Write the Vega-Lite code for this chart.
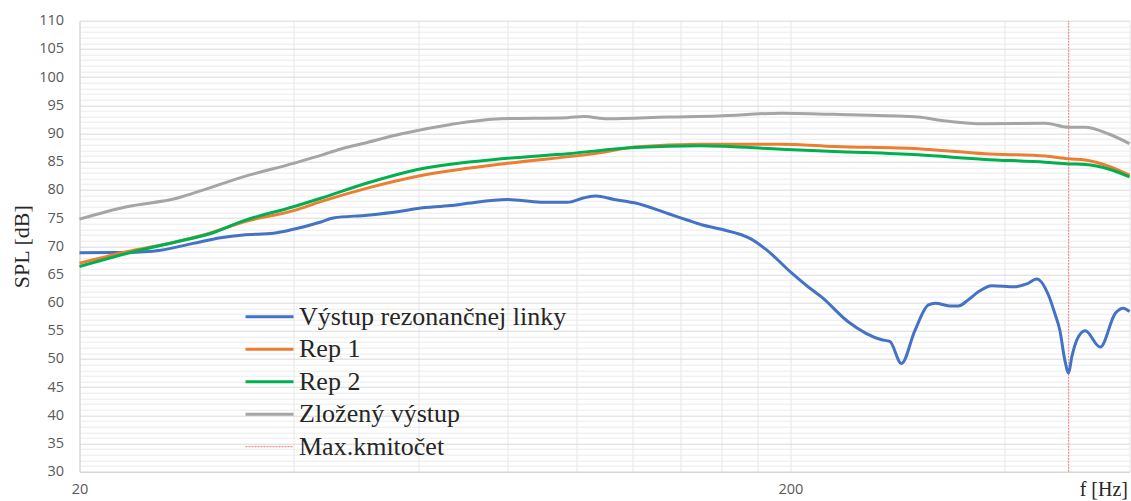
{
  "$schema": "https://vega.github.io/schema/vega-lite/v6.json",
  "width": 1050,
  "height": 451,
  "autosize": "none",
  "padding": {"left": 79.5, "top": 20.7, "right": 1.5, "bottom": 29.3},
  "background": "white",
  "config": {"view": {"stroke": null}},
  "datasets": {
    "curves": [
      {"series": "Výstup rezonančnej linky", "f": 20, "spl": 68.85},
      {"series": "Výstup rezonančnej linky", "f": 23.3, "spl": 68.9},
      {"series": "Výstup rezonančnej linky", "f": 26.0, "spl": 69.3},
      {"series": "Výstup rezonančnej linky", "f": 28.9, "spl": 70.5},
      {"series": "Výstup rezonančnej linky", "f": 31.6, "spl": 71.5},
      {"series": "Výstup rezonančnej linky", "f": 34.0, "spl": 72.0},
      {"series": "Výstup rezonančnej linky", "f": 37.5, "spl": 72.3},
      {"series": "Výstup rezonančnej linky", "f": 40.0, "spl": 73.0},
      {"series": "Výstup rezonančnej linky", "f": 43.7, "spl": 74.3},
      {"series": "Výstup rezonančnej linky", "f": 45.5, "spl": 75.0},
      {"series": "Výstup rezonančnej linky", "f": 50.8, "spl": 75.5},
      {"series": "Výstup rezonančnej linky", "f": 56.6, "spl": 76.2},
      {"series": "Výstup rezonančnej linky", "f": 59.8, "spl": 76.7},
      {"series": "Výstup rezonančnej linky", "f": 66.6, "spl": 77.2},
      {"series": "Výstup rezonančnej linky", "f": 70.3, "spl": 77.6},
      {"series": "Výstup rezonančnej linky", "f": 80.0, "spl": 78.3},
      {"series": "Výstup rezonančnej linky", "f": 89.1, "spl": 77.8},
      {"series": "Výstup rezonančnej linky", "f": 97.2, "spl": 77.8},
      {"series": "Výstup rezonančnej linky", "f": 102.6, "spl": 78.6},
      {"series": "Výstup rezonančnej linky", "f": 106.6, "spl": 78.9},
      {"series": "Výstup rezonančnej linky", "f": 113, "spl": 78.3},
      {"series": "Výstup rezonančnej linky", "f": 120.7, "spl": 77.7},
      {"series": "Výstup rezonančnej linky", "f": 134.5, "spl": 75.8},
      {"series": "Výstup rezonančnej linky", "f": 143.5, "spl": 74.6},
      {"series": "Výstup rezonančnej linky", "f": 150, "spl": 73.8},
      {"series": "Výstup rezonančnej linky", "f": 160, "spl": 73.0},
      {"series": "Výstup rezonančnej linky", "f": 176, "spl": 71.3},
      {"series": "Výstup rezonančnej linky", "f": 185, "spl": 69.4},
      {"series": "Výstup rezonančnej linky", "f": 200.6, "spl": 65.3},
      {"series": "Výstup rezonančnej linky", "f": 211.8, "spl": 62.8},
      {"series": "Výstup rezonančnej linky", "f": 221.2, "spl": 61.0},
      {"series": "Výstup rezonančnej linky", "f": 241.2, "spl": 56.6},
      {"series": "Výstup rezonančnej linky", "f": 268.8, "spl": 53.4},
      {"series": "Výstup rezonančnej linky", "f": 276.0, "spl": 53.1},
      {"series": "Výstup rezonančnej linky", "f": 286.7, "spl": 49.2},
      {"series": "Výstup rezonančnej linky", "f": 299.3, "spl": 55.0},
      {"series": "Výstup rezonančnej linky", "f": 312.8, "spl": 59.6},
      {"series": "Výstup rezonančnej linky", "f": 320, "spl": 59.9},
      {"series": "Výstup rezonančnej linky", "f": 335, "spl": 59.4},
      {"series": "Výstup rezonančnej linky", "f": 344.8, "spl": 59.4},
      {"series": "Výstup rezonančnej linky", "f": 356, "spl": 60.5},
      {"series": "Výstup rezonančnej linky", "f": 367.8, "spl": 61.9},
      {"series": "Výstup rezonančnej linky", "f": 384, "spl": 63.0},
      {"series": "Výstup rezonančnej linky", "f": 413.8, "spl": 62.8},
      {"series": "Výstup rezonančnej linky", "f": 430, "spl": 63.3},
      {"series": "Výstup rezonančnej linky", "f": 444.4, "spl": 64.2},
      {"series": "Výstup rezonančnej linky", "f": 461.6, "spl": 61.3},
      {"series": "Výstup rezonančnej linky", "f": 471, "spl": 58.1},
      {"series": "Výstup rezonančnej linky", "f": 478.8, "spl": 55.1},
      {"series": "Výstup rezonančnej linky", "f": 486.6, "spl": 49.8},
      {"series": "Výstup rezonančnej linky", "f": 492.6, "spl": 47.5},
      {"series": "Výstup rezonančnej linky", "f": 497.8, "spl": 50.4},
      {"series": "Výstup rezonančnej linky", "f": 506, "spl": 53.4},
      {"series": "Výstup rezonančnej linky", "f": 519.8, "spl": 55.0},
      {"series": "Výstup rezonančnej linky", "f": 545.8, "spl": 52.1},
      {"series": "Výstup rezonančnej linky", "f": 573, "spl": 58.1},
      {"series": "Výstup rezonančnej linky", "f": 588, "spl": 59.0},
      {"series": "Výstup rezonančnej linky", "f": 600, "spl": 58.4},

      {"series": "Rep 1", "f": 20, "spl": 67.0},
      {"series": "Rep 1", "f": 23.3, "spl": 69.0},
      {"series": "Rep 1", "f": 27.4, "spl": 70.8},
      {"series": "Rep 1", "f": 30.5, "spl": 72.3},
      {"series": "Rep 1", "f": 34.0, "spl": 74.3},
      {"series": "Rep 1", "f": 40.0, "spl": 76.3},
      {"series": "Rep 1", "f": 43.7, "spl": 77.9},
      {"series": "Rep 1", "f": 50.8, "spl": 80.3},
      {"series": "Rep 1", "f": 59.8, "spl": 82.4},
      {"series": "Rep 1", "f": 80.0, "spl": 84.7},
      {"series": "Rep 1", "f": 108.3, "spl": 86.6},
      {"series": "Rep 1", "f": 120.7, "spl": 87.6},
      {"series": "Rep 1", "f": 149.8, "spl": 88.1},
      {"series": "Rep 1", "f": 194.2, "spl": 88.1},
      {"series": "Rep 1", "f": 230.8, "spl": 87.7},
      {"series": "Rep 1", "f": 302.7, "spl": 87.3},
      {"series": "Rep 1", "f": 375.8, "spl": 86.4},
      {"series": "Rep 1", "f": 456.6, "spl": 86.0},
      {"series": "Rep 1", "f": 492.6, "spl": 85.5},
      {"series": "Rep 1", "f": 519.8, "spl": 85.3},
      {"series": "Rep 1", "f": 560.9, "spl": 84.2},
      {"series": "Rep 1", "f": 600, "spl": 82.6},

      {"series": "Rep 2", "f": 20, "spl": 66.4},
      {"series": "Rep 2", "f": 23.3, "spl": 68.7},
      {"series": "Rep 2", "f": 27.4, "spl": 70.8},
      {"series": "Rep 2", "f": 30.5, "spl": 72.2},
      {"series": "Rep 2", "f": 34.0, "spl": 74.5},
      {"series": "Rep 2", "f": 40.0, "spl": 77.0},
      {"series": "Rep 2", "f": 43.7, "spl": 78.5},
      {"series": "Rep 2", "f": 50.8, "spl": 81.2},
      {"series": "Rep 2", "f": 59.8, "spl": 83.6},
      {"series": "Rep 2", "f": 80.0, "spl": 85.6},
      {"series": "Rep 2", "f": 97.2, "spl": 86.4},
      {"series": "Rep 2", "f": 120.7, "spl": 87.5},
      {"series": "Rep 2", "f": 149.8, "spl": 87.8},
      {"series": "Rep 2", "f": 194.2, "spl": 87.2},
      {"series": "Rep 2", "f": 230.8, "spl": 86.8},
      {"series": "Rep 2", "f": 302.7, "spl": 86.2},
      {"series": "Rep 2", "f": 375.8, "spl": 85.4},
      {"series": "Rep 2", "f": 456.6, "spl": 84.9},
      {"series": "Rep 2", "f": 492.6, "spl": 84.6},
      {"series": "Rep 2", "f": 519.8, "spl": 84.5},
      {"series": "Rep 2", "f": 560.9, "spl": 83.7},
      {"series": "Rep 2", "f": 600, "spl": 82.3},

      {"series": "Zložený výstup", "f": 20, "spl": 74.8},
      {"series": "Zložený výstup", "f": 23.3, "spl": 77.0},
      {"series": "Zložený výstup", "f": 27.4, "spl": 78.5},
      {"series": "Zložený výstup", "f": 29.9, "spl": 80.0},
      {"series": "Zložený výstup", "f": 34.0, "spl": 82.3},
      {"series": "Zložený výstup", "f": 40.0, "spl": 84.7},
      {"series": "Zložený výstup", "f": 43.7, "spl": 86.1},
      {"series": "Zložený výstup", "f": 46.5, "spl": 87.2},
      {"series": "Zložený výstup", "f": 50.8, "spl": 88.4},
      {"series": "Zložený výstup", "f": 56.6, "spl": 89.9},
      {"series": "Zložený výstup", "f": 66.6, "spl": 91.6},
      {"series": "Zložený výstup", "f": 78.3, "spl": 92.6},
      {"series": "Zložený výstup", "f": 97.2, "spl": 92.8},
      {"series": "Zložený výstup", "f": 102.6, "spl": 93.0},
      {"series": "Zložený výstup", "f": 110.7, "spl": 92.6},
      {"series": "Zložený výstup", "f": 134.5, "spl": 92.9},
      {"series": "Zložený výstup", "f": 158.2, "spl": 93.1},
      {"series": "Zložený výstup", "f": 194.2, "spl": 93.6},
      {"series": "Zložený výstup", "f": 243.8, "spl": 93.3},
      {"series": "Zložený výstup", "f": 302.7, "spl": 92.9},
      {"series": "Zložený výstup", "f": 326.5, "spl": 92.3},
      {"series": "Zložený výstup", "f": 375.8, "spl": 91.7},
      {"series": "Zložený výstup", "f": 456.6, "spl": 91.8},
      {"series": "Zložený výstup", "f": 492.6, "spl": 91.1},
      {"series": "Zložený výstup", "f": 519.8, "spl": 91.1},
      {"series": "Zložený výstup", "f": 560.9, "spl": 89.9},
      {"series": "Zložený výstup", "f": 600, "spl": 88.2}
    ],
    "marker": [
      {"series": "Max.kmitočet", "f": 492.6}
    ]
  },
  "layer": [
    {
      "data": {"name": "marker"},
      "mark": {"type": "rule", "strokeWidth": 1.2, "strokeDash": [2, 1]},
      "encoding": {
        "x": {
          "field": "f", "type": "quantitative",
          "scale": {"type": "log", "domain": [20, 600], "nice": false},
          "axis": {
            "values": [20, 40, 60, 80, 100, 120, 140, 160, 180, 200, 400, 600],
            "labelExpr": "datum.value == 20 || datum.value == 200 ? format(datum.value, 'd') : ''",
            "labelFlush": false, "labelOverlap": false,
            "grid": true, "gridColor": "#e6e6e6", "gridWidth": 1,
            "ticks": false, "tickSize": 0,
            "domainColor": "#d0d0d0", "domainWidth": 1,
            "labelFont": "Open Sans", "labelFontSize": 14.5, "labelColor": "#595959", "labelPadding": 11,
            "title": "f [Hz]", "titleFont": "Liberation Serif", "titleFontSize": 20, "titleFontWeight": "normal",
            "titleColor": "#262626", "titleX": 1048, "titleY": 24, "titleAlign": "right", "titleBaseline": "alphabetic"
          }
        },
        "y": {
          "datum": 30, "type": "quantitative",
          "scale": {"domain": [30, 110], "nice": false},
          "axis": {
            "orient": "left",
            "values": [31,32,33,34,36,37,38,39,41,42,43,44,46,47,48,49,51,52,53,54,56,57,58,59,61,62,63,64,66,67,68,69,71,72,73,74,76,77,78,79,81,82,83,84,86,87,88,89,91,92,93,94,96,97,98,99,101,102,103,104,106,107,108,109],
            "labels": false, "ticks": false, "domain": false,
            "grid": true, "gridColor": "#ebebeb", "gridWidth": 1,
            "title": null
          }
        },
        "y2": {"datum": 110},
        "color": {
          "field": "series", "type": "nominal",
          "scale": {
            "domain": ["Výstup rezonančnej linky", "Rep 1", "Rep 2", "Zložený výstup", "Max.kmitočet"],
            "range": ["#4472C4", "#ED7D31", "#00B050", "#A5A5A5", "#F28C8C"]
          },
          "legend": {
            "orient": "none", "legendX": 177, "legendY": 283,
            "title": null, "padding": 0, "offset": 0,
            "symbolType": "M-4,0H4", "symbolSize": 144, "symbolStrokeWidth": 3,
            "labelFont": "Liberation Serif", "labelFontSize": 26, "labelColor": "#262626",
            "labelOffset": 16.5, "rowPadding": 6.5, "labelLimit": 500,
            "encode": {
              "symbols": {
                "update": {
                  "strokeDash": {"signal": "datum.value === 'Max.kmitočet' ? [2, 1] : [1, 0]"},
                  "strokeWidth": {"signal": "datum.value === 'Max.kmitočet' ? 1.2 : 3"}
                }
              }
            }
          }
        }
      }
    },
    {
      "data": {"name": "curves"},
      "mark": {"type": "line", "strokeWidth": 3, "interpolate": "monotone"},
      "encoding": {
        "x": {
          "field": "f", "type": "quantitative",
          "scale": {"type": "log", "domain": [20, 600], "nice": false},
          "axis": {
            "values": [20, 40, 60, 80, 100, 120, 140, 160, 180, 200, 400, 600],
            "labelExpr": "datum.value == 20 || datum.value == 200 ? format(datum.value, 'd') : ''",
            "labelFlush": false, "labelOverlap": false,
            "grid": true, "gridColor": "#e6e6e6", "gridWidth": 1,
            "ticks": false, "tickSize": 0,
            "domainColor": "#d0d0d0", "domainWidth": 1,
            "labelFont": "Open Sans", "labelFontSize": 14.5, "labelColor": "#595959", "labelPadding": 11,
            "title": "f [Hz]", "titleFont": "Liberation Serif", "titleFontSize": 20, "titleFontWeight": "normal",
            "titleColor": "#262626", "titleX": 1048, "titleY": 24, "titleAlign": "right", "titleBaseline": "alphabetic"
          }
        },
        "y": {
          "field": "spl", "type": "quantitative",
          "scale": {"domain": [30, 110], "nice": false},
          "axis": {
            "orient": "left",
            "values": [30, 35, 40, 45, 50, 55, 60, 65, 70, 75, 80, 85, 90, 95, 100, 105, 110],
            "grid": true, "gridColor": "#d9d9d9", "gridWidth": 1,
            "ticks": false, "tickSize": 0,
            "domainColor": "#d0d0d0", "domainWidth": 1,
            "labelFont": "Open Sans", "labelFontSize": 14.5, "labelColor": "#595959", "labelPadding": 16,
            "title": "SPL [dB]", "titleFont": "Liberation Serif", "titleFontSize": 22, "titleFontWeight": "normal",
            "titleColor": "#262626", "titleX": -58, "titleY": 225.5, "titleAngle": -90,
            "titleAlign": "center", "titleBaseline": "middle"
          }
        },
        "color": {
          "field": "series", "type": "nominal",
          "scale": {
            "domain": ["Výstup rezonančnej linky", "Rep 1", "Rep 2", "Zložený výstup", "Max.kmitočet"],
            "range": ["#4472C4", "#ED7D31", "#00B050", "#A5A5A5", "#F28C8C"]
          },
          "legend": {
            "orient": "none", "legendX": 177, "legendY": 283,
            "title": null, "padding": 0, "offset": 0,
            "symbolType": "M-4,0H4", "symbolSize": 144, "symbolStrokeWidth": 3,
            "labelFont": "Liberation Serif", "labelFontSize": 26, "labelColor": "#262626",
            "labelOffset": 16.5, "rowPadding": 6.5, "labelLimit": 500,
            "encode": {
              "symbols": {
                "update": {
                  "strokeDash": {"signal": "datum.value === 'Max.kmitočet' ? [2, 1] : [1, 0]"},
                  "strokeWidth": {"signal": "datum.value === 'Max.kmitočet' ? 1.2 : 3"}
                }
              }
            }
          }
        }
      }
    }
  ],
  "resolve": {"axis": {"y": "independent"}}
}
